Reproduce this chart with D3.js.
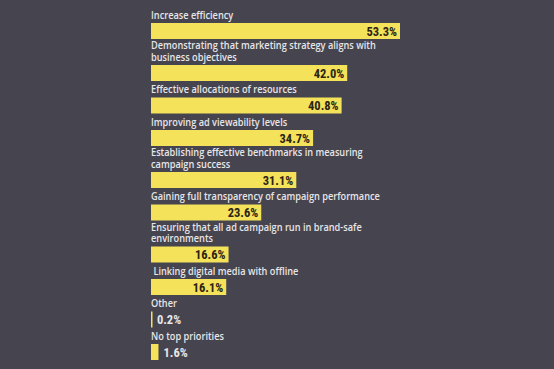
<!DOCTYPE html>
<html><head><meta charset="utf-8">
<script src="https://cdn.jsdelivr.net/npm/d3@7"></script>
<style>
html,body{margin:0;padding:0;background:#46444e;}
svg{display:block;}
</style></head>
<body>
<svg id="c" width="554" height="369"></svg>
<script>
const categories = [
  "Increase efficiency",
  "Demonstrating that marketing strategy aligns with\nbusiness objectives",
  "Effective allocations of resources",
  "Improving ad viewability levels",
  "Establishing effective benchmarks in measuring\ncampaign success",
  "Gaining full transparency of campaign performance",
  "Ensuring that all ad campaign run in brand-safe\nenvironments",
  " Linking digital media with offline",
  "Other",
  "No top priorities"
];
const values = [53.3, 42.0, 40.8, 34.7, 31.1, 23.6, 16.6, 16.1, 0.2, 1.6];
const valueLabels = ["53.3%","42.0%","40.8%","34.7%","31.1%","23.6%","16.6%","16.1%","0.2%","1.6%"];

const svg = d3.select("#c");
const x0 = 151;
const x = d3.scaleLinear().domain([0, 53.3]).range([x0, 400]);
const barH = 16, lineH = 11.5, step1 = 32.5, stepExtra = 9.5, topStart = 23;
const LABEL_FONT = "'Open Sans','Noto Sans',sans-serif";
const SX = 0.8;
const FONT = "'Liberation Sans Narrow','Roboto Condensed','DejaVu Sans Condensed',sans-serif";

const rows = [];
let yTop = topStart;
categories.forEach((c, i) => {
  const lines = c.split("\n");
  if (i > 0) yTop += step1 + (lines.length - 1) * stepExtra;
  rows.push({c, lines, v: values[i], lab: valueLabels[i], yTop});
});

const g = svg.append("g");
rows.forEach(r => {
  const lg = g.append("g").attr("transform", `translate(${x0},0) scale(${SX},1)`);
  const t = lg.append("text")
    .attr("font-family", LABEL_FONT).attr("font-size", 11.5).attr("font-weight", 600)
    .attr("fill", "#e6e6e8").style("white-space", "pre");
  r.lines.forEach((ln, j) => {
    t.append("tspan").attr("x", 0)
      .attr("y", r.yTop - 4 - (r.lines.length - 1 - j) * lineH)
      .text(ln);
  });
  g.append("rect")
    .attr("x", x0).attr("y", r.yTop)
    .attr("width", Math.max(1.5, x(r.v) - x0)).attr("height", barH)
    .attr("fill", "#f4e25a");
  const w = x(r.v) - x0;
  const inside = w > 40;
  g.append("text")
    .attr("font-family", FONT).attr("font-size", 12.5).attr("font-weight", "bold")
    .attr("x", inside ? x(r.v) - 3 : x(r.v) + 5)
    .attr("y", r.yTop + barH / 2 + 4.5)
    .attr("text-anchor", inside ? "end" : "start")
    .attr("fill", inside ? "#2b2415" : "#e6e6e8")
    .text(r.lab);
});
</script>
</body></html>
